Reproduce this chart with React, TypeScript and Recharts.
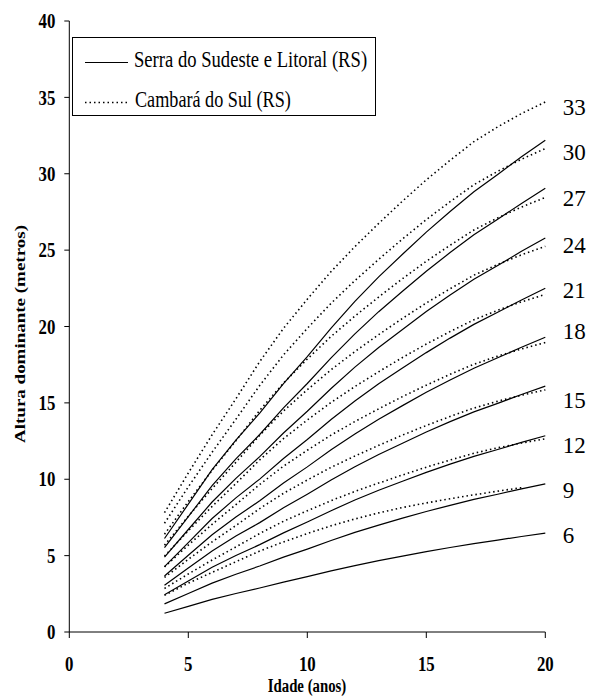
import React from "react";
import { LineChart, Line, XAxis, YAxis, ReferenceDot, Label } from "recharts";

// idade (anos)
const ages = [4, 5, 6, 7, 8, 9, 10, 11, 12, 13, 14, 15, 16, 17, 18, 19, 20];

// Serra do Sudeste e Litoral (RS) - linhas cheias
const serra6 = [1.23, 1.68, 2.14, 2.52, 2.88, 3.27, 3.62, 4.0, 4.35, 4.67, 4.97, 5.26, 5.53, 5.79, 6.02, 6.25, 6.47];
const serra9 = [1.84, 2.52, 3.2, 3.78, 4.32, 4.9, 5.43, 5.99, 6.52, 7.0, 7.45, 7.89, 8.29, 8.68, 9.02, 9.37, 9.7];
const serra12 = [2.44, 3.34, 4.24, 5.01, 5.72, 6.49, 7.2, 7.94, 8.64, 9.28, 9.87, 10.45, 10.99, 11.5, 11.95, 12.41, 12.85];
const serra15 = [3.06, 4.19, 5.31, 6.28, 7.16, 8.13, 9.02, 9.95, 10.82, 11.62, 12.36, 13.09, 13.77, 14.41, 14.97, 15.55, 16.1];
const serra18 = [3.67, 5.02, 6.37, 7.53, 8.59, 9.75, 10.81, 11.93, 12.97, 13.93, 14.82, 15.69, 16.5, 17.27, 17.95, 18.64, 19.3];
const serra21 = [4.28, 5.85, 7.43, 8.78, 10.01, 11.36, 12.6, 13.91, 15.12, 16.25, 17.28, 18.29, 19.24, 20.14, 20.93, 21.74, 22.5];
const serra24 = [4.9, 6.71, 8.51, 10.06, 11.48, 13.03, 14.45, 15.94, 17.34, 18.63, 19.81, 20.98, 22.06, 23.09, 23.99, 24.92, 25.8];
const serra27 = [5.52, 7.55, 9.59, 11.33, 12.93, 14.67, 16.27, 17.95, 19.52, 20.97, 22.31, 23.62, 24.84, 26.0, 27.02, 28.06, 29.05];
const serra30 = [6.12, 8.37, 10.63, 12.56, 14.33, 16.26, 18.03, 19.9, 21.64, 23.25, 24.73, 26.18, 27.53, 28.82, 29.95, 31.11, 32.2];

// Cambará do Sul (RS) - linhas pontilhadas
const cambara9 = [2.4, 3.2, 3.9, 4.6, 5.3, 5.9, 6.45, 6.95, 7.4, 7.8, 8.15, 8.45, 8.72, 8.98, 9.22, 9.45];
const cambara12 = [2.85, 3.8, 4.71, 5.57, 6.45, 7.25, 7.94, 8.6, 9.2, 9.75, 10.28, 10.79, 11.26, 11.7, 12.06, 12.37, 12.65];
const cambara15 = [3.57, 4.76, 5.9, 6.97, 8.08, 9.08, 9.95, 10.78, 11.52, 12.22, 12.89, 13.52, 14.11, 14.66, 15.11, 15.5, 15.85];
const cambara18 = [4.26, 5.69, 7.05, 8.34, 9.66, 10.86, 11.9, 12.89, 13.78, 14.61, 15.41, 16.16, 16.87, 17.53, 18.06, 18.53, 18.95];
const cambara21 = [4.97, 6.63, 8.22, 9.72, 11.27, 12.66, 13.88, 15.03, 16.07, 17.04, 17.97, 18.85, 19.67, 20.44, 21.06, 21.61, 22.1];
const cambara24 = [5.68, 7.58, 9.39, 11.11, 12.88, 14.47, 15.86, 17.17, 18.36, 19.47, 20.53, 21.54, 22.47, 23.36, 24.06, 24.69, 25.25];
const cambara27 = [6.4, 8.54, 10.58, 12.52, 14.51, 16.3, 17.87, 19.35, 20.68, 21.93, 23.13, 24.27, 25.32, 26.32, 27.11, 27.82, 28.45];
const cambara30 = [7.12, 9.5, 11.77, 13.93, 16.14, 18.14, 19.88, 21.52, 23.01, 24.4, 25.73, 27.0, 28.17, 29.28, 30.16, 30.95, 31.65];
const cambara33 = [7.81, 10.41, 12.91, 15.27, 17.7, 19.88, 21.79, 23.6, 25.23, 26.75, 28.21, 29.6, 30.88, 32.1, 33.07, 33.94, 34.7];

// rótulos dos índices de sítio, à direita
const siteLabels = ["33", "30", "27", "24", "21", "18", "15", "12", "9", "6"];
const siteLabelHeights = [34.4, 31.45, 28.4, 25.35, 22.4, 19.7, 15.2, 12.25, 9.3, 6.35];

const xTicks = [0, 5, 10, 15, 20];
const yTicks = [0, 5, 10, 15, 20, 25, 30, 35, 40];

const serraSeries: [string, number[]][] = [
  ["serra6", serra6],
  ["serra9", serra9],
  ["serra12", serra12],
  ["serra15", serra15],
  ["serra18", serra18],
  ["serra21", serra21],
  ["serra24", serra24],
  ["serra27", serra27],
  ["serra30", serra30],
];
const cambaraSeries: [string, number[]][] = [
  ["cambara9", cambara9],
  ["cambara12", cambara12],
  ["cambara15", cambara15],
  ["cambara18", cambara18],
  ["cambara21", cambara21],
  ["cambara24", cambara24],
  ["cambara27", cambara27],
  ["cambara30", cambara30],
  ["cambara33", cambara33],
];

const data = ages.map((age, i) => {
  const row: any = { age };
  [...serraSeries, ...cambaraSeries].forEach(([key, values]) => {
    row[key] = values[i];
  });
  return row;
});

const FONT = "'Liberation Serif', 'Times New Roman', serif";

const XTick = ({ x, y, payload }: any) => (
  <g transform={`translate(${x},${y}) scale(0.8,1)`}>
    <text textAnchor="middle" dy="0.71em" fontFamily={FONT} fontWeight="bold" fontSize={21} fill="#000">
      {payload.value}
    </text>
  </g>
);

const YTick = ({ x, y, payload }: any) => (
  <g transform={`translate(${x},${y}) scale(0.8,1)`}>
    <text textAnchor="end" dy="0.34em" fontFamily={FONT} fontWeight="bold" fontSize={21} fill="#000">
      {payload.value}
    </text>
  </g>
);

const YTitle = () => (
  <g transform="translate(20,334) scale(0.8,1) rotate(-90)">
    <text textAnchor="middle" dy="0.34em" fontFamily={FONT} fontWeight="bold" fontSize={19} fill="#000">
      Altura dominante (metros)
    </text>
  </g>
);

const XTitle = () => (
  <g transform="translate(307,692) scale(0.78,1)">
    <text textAnchor="middle" fontFamily={FONT} fontWeight="bold" fontSize={19} fill="#000">
      Idade (anos)
    </text>
  </g>
);

function LegendBox() {
  return (
    <div
      style={{
        position: "absolute",
        left: 72,
        top: 37,
        width: 302,
        height: 77,
        border: "1px solid #000",
        background: "#fff",
      }}
    >
      <svg width={302} height={77}>
        <line x1={12} x2={55} y1={24.5} y2={24.5} stroke="#000" strokeWidth={1.2} />
        <g transform="translate(61,28.5) scale(0.81,1)">
          <text fontFamily={FONT} fontSize={23} fill="#000">
            Serra do Sudeste e Litoral (RS)
          </text>
        </g>
        <line x1={12} x2={55} y1={64.5} y2={64.5} stroke="#000" strokeWidth={1.6} strokeDasharray="1.5 3" />
        <g transform="translate(62,69) scale(0.79,1)">
          <text fontFamily={FONT} fontSize={23} fill="#000">
            Cambará do Sul (RS)
          </text>
        </g>
      </svg>
    </div>
  );
}

export default function App() {
  return (
    <div style={{ position: "absolute", left: 0, top: 0, width: 592, height: 696, background: "#fff" }}>
      <LineChart width={592} height={696} data={data} margin={{ top: 21, right: 46.7, left: 9.3, bottom: 0 }}>
        <XAxis
          dataKey="age"
          type="number"
          domain={[0, 20]}
          ticks={xTicks}
          tick={<XTick />}
          tickSize={6}
          tickMargin={18}
          height={64}
          stroke="#000"
          tickLine={{ stroke: "#000" }}
        >
          <Label content={<XTitle />} />
        </XAxis>
        <YAxis
          type="number"
          domain={[0, 40]}
          ticks={yTicks}
          tick={<YTick />}
          tickSize={5}
          tickMargin={9}
          width={60}
          stroke="#000"
          tickLine={{ stroke: "#000" }}
        >
          <Label content={<YTitle />} />
        </YAxis>
        {serraSeries.map(([key]) => (
          <Line
            key={key}
            dataKey={key}
            type="linear"
            stroke="#000"
            strokeWidth={1.2}
            dot={false}
            activeDot={false}
            isAnimationActive={false}
          />
        ))}
        {cambaraSeries.map(([key]) => (
          <Line
            key={key}
            dataKey={key}
            type="linear"
            stroke="#000"
            strokeWidth={1.6}
            strokeDasharray="1.5 3"
            dot={false}
            activeDot={false}
            isAnimationActive={false}
          />
        ))}
        {siteLabels.map((label, i) => (
          <ReferenceDot
            key={label}
            x={20}
            y={siteLabelHeights[i]}
            r={1}
            fill="none"
            stroke="none"
            label={{
              value: label,
              position: "right",
              offset: 16.5,
              fontFamily: FONT,
              fontSize: 23,
              fill: "#000",
            }}
          />
        ))}
      </LineChart>
      <LegendBox />
    </div>
  );
}
